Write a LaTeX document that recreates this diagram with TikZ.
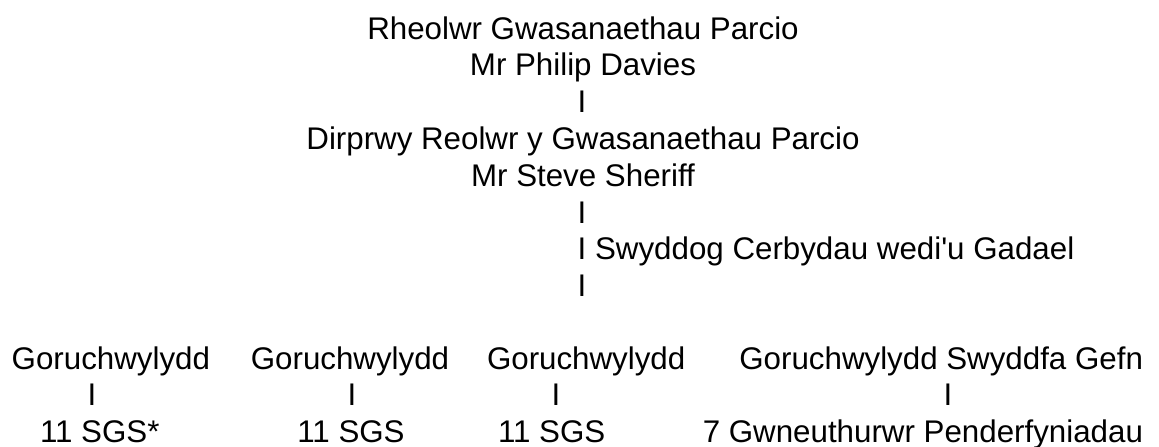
\documentclass[tikz,border=0pt]{standalone}
\usepackage{fontspec}
\newfontfamily\arial{Liberation Sans}
\tikzset{
  txt/.style={inner sep=0pt, outer sep=0pt, font=\arial\fontsize{31.3}{36}\selectfont, text=black},
}
\begin{document}
\begin{tikzpicture}[x=1pt,y=1pt]
\useasboundingbox (0,0) rectangle (1159,-447);
% central column
\node[txt, anchor=base] (r1) at (583,-39) {Rheolwr Gwasanaethau Parcio};
\node[txt, anchor=base] (r2) at (583,-75.8) {Mr Philip Davies};
\node[txt, anchor=base] (c1) at (582,-112.6) {I};
\node[txt, anchor=base] (r4) at (583,-149.4) {Dirprwy Reolwr y Gwasanaethau Parcio};
\node[txt, anchor=base] (r5) at (583,-186.2) {Mr Steve Sheriff};
\node[txt, anchor=base] (c2) at (582,-223) {I};
\node[txt, anchor=base west] (r7) at (577.7,-259.8) {I Swyddog Cerbydau wedi'u Gadael};
\node[txt, anchor=base] (c3) at (582,-296.6) {I};
% bottom row
\node[txt, anchor=base west] (g1) at (11.7,-369) {Goruchwylydd};
\node[txt, anchor=base] (i1) at (92,-405.5) {I};
\node[txt, anchor=base west] (s1) at (40,-442) {11 SGS*};
\node[txt, anchor=base] (g2) at (350,-369) {Goruchwylydd};
\node[txt, anchor=base] (i2) at (352,-405.5) {I};
\node[txt, anchor=base] (s2) at (351,-442) {11 SGS};
\node[txt, anchor=base west] (g3) at (487,-369) {Goruchwylydd};
\node[txt, anchor=base] (i3) at (556,-405.5) {I};
\node[txt, anchor=base west] (s3) at (498,-442) {11 SGS};
\node[txt, anchor=base east] (g4) at (1143,-369) {Goruchwylydd Swyddfa Gefn};
\node[txt, anchor=base] (i4) at (948,-405.5) {I};
\node[txt, anchor=base east] (s4) at (1143,-442) {7 Gwneuthurwr Penderfyniadau};
\end{tikzpicture}
\end{document}
